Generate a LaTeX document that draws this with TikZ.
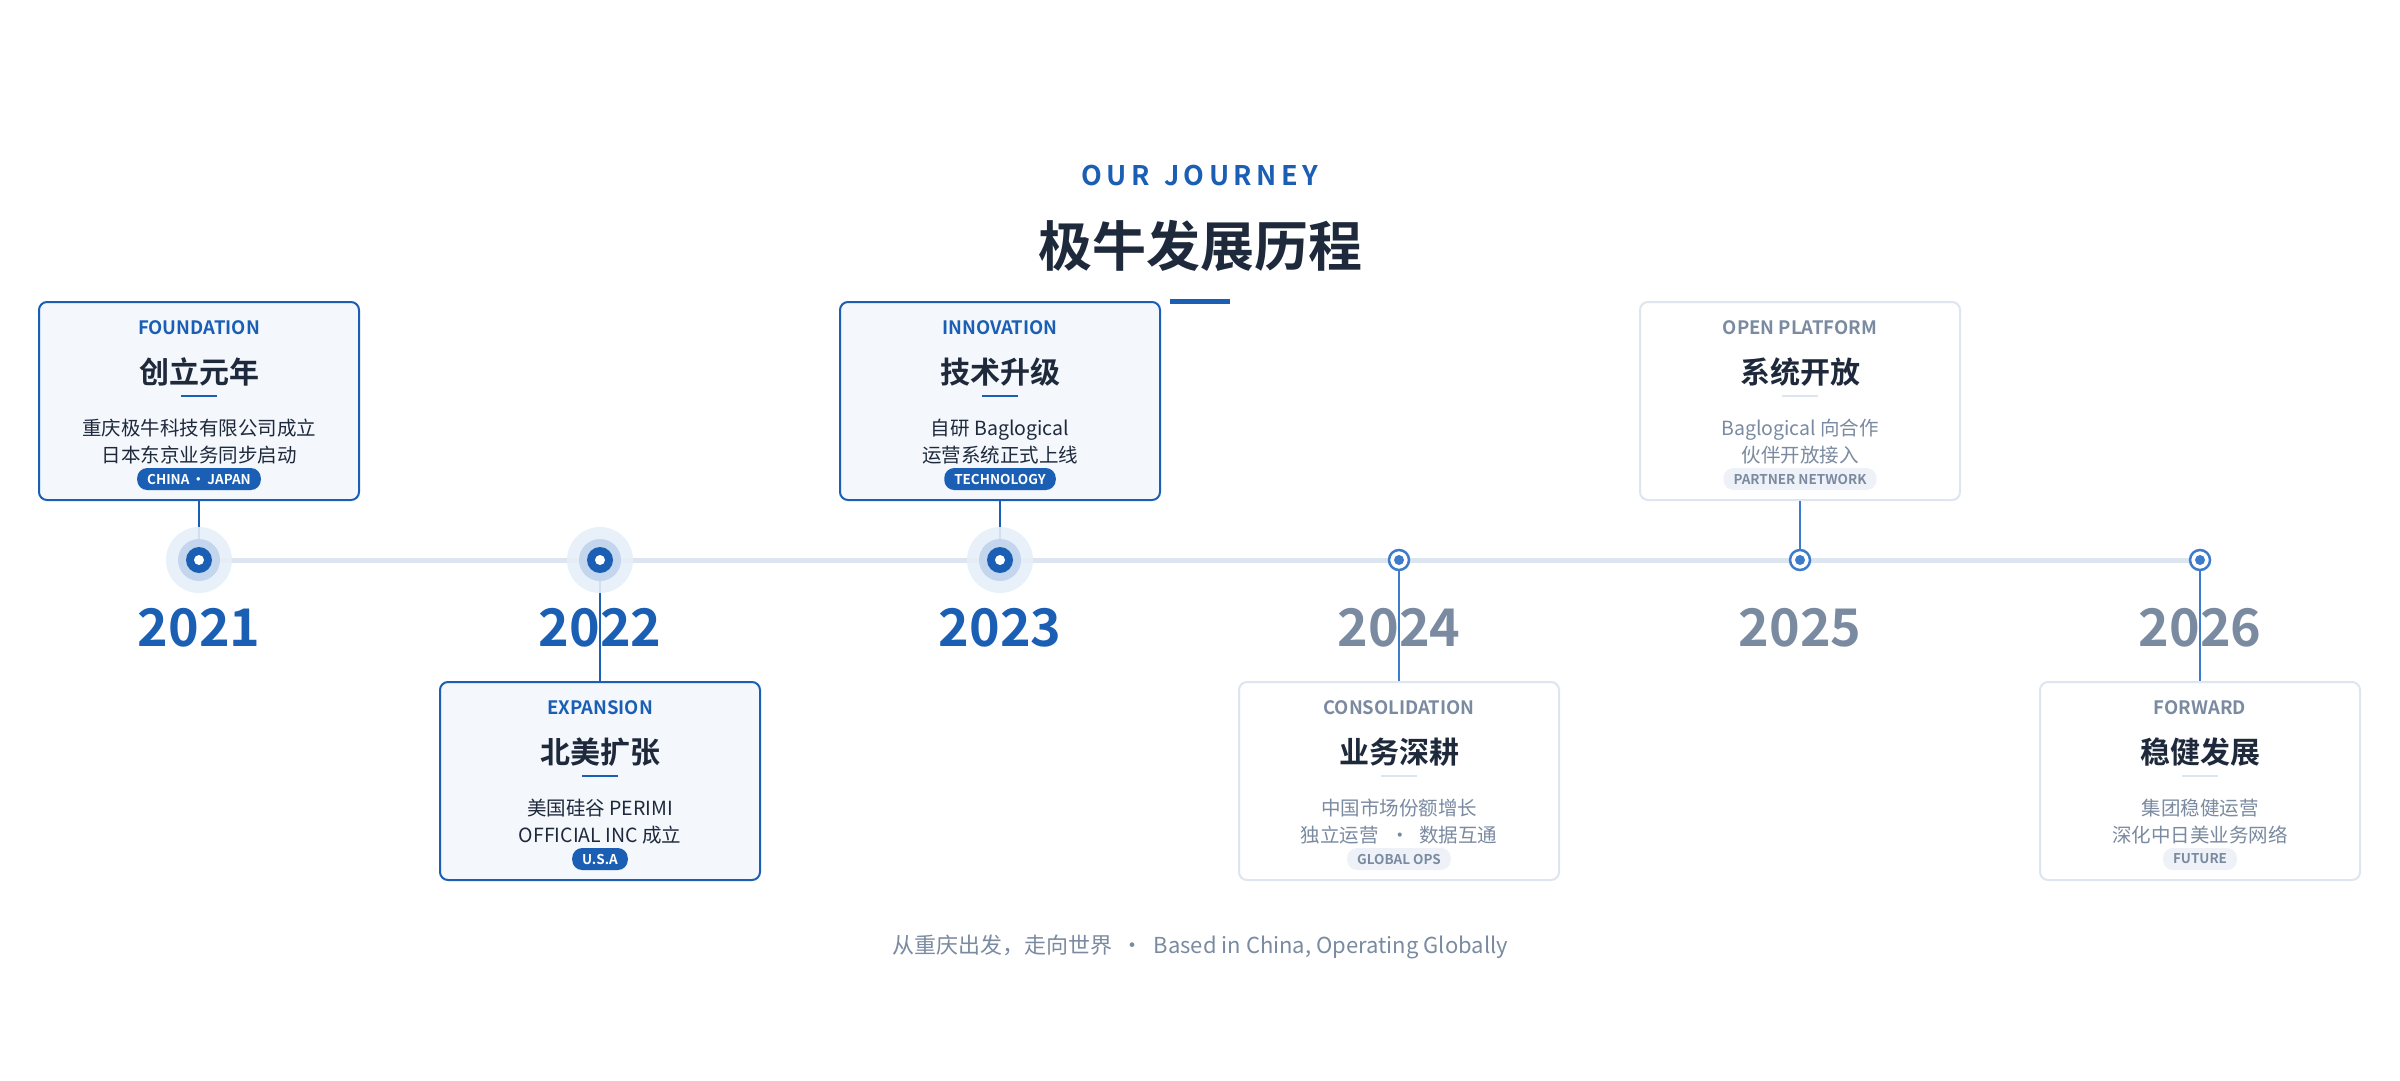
\documentclass[tikz,border=0pt]{standalone}
\usepackage{fontspec}
\setmainfont{Noto Sans CJK SC}[BoldFont={Noto Sans CJK SC Bold}]
\begin{document}
\definecolor{blue}{HTML}{1A5FB4}
\definecolor{lblue}{HTML}{3D7CC9}
\definecolor{halo}{HTML}{E6EEF8}
\definecolor{halo2}{HTML}{C3D6EE}
\definecolor{dark}{HTML}{1E293B}
\definecolor{grey}{HTML}{7A8AA0}
\definecolor{line}{HTML}{DDE5F0}
\definecolor{cardA}{HTML}{F4F7FC}
\definecolor{pillB}{HTML}{EEF2F8}
\begin{tikzpicture}[x=1pt,y=-1pt,
 cardA/.style={draw=blue,line width=2pt,fill=cardA,rounded corners=8pt,minimum width=320pt,minimum height=198pt},
 cardB/.style={draw=line,line width=2pt,fill=white,rounded corners=8pt,minimum width=320pt,minimum height=198pt},
 tag/.style={font=\fontsize{18.5}{20}\selectfont\bfseries},
 ttl/.style={font=\fontsize{30}{34}\selectfont\bfseries,text=dark},
 body/.style={font=\fontsize{19.5}{27}\selectfont,align=center},
 pillA/.style={fill=blue,text=white,rounded corners=10pt,font=\fontsize{13.5}{14}\selectfont\bfseries,inner xsep=10pt,minimum height=22pt,inner ysep=0pt},
 pillB/.style={fill=pillB,text=grey,rounded corners=10pt,font=\fontsize{13.5}{14}\selectfont\bfseries,inner xsep=10pt,minimum height=22pt,inner ysep=0pt},
 yr/.style={font=\fontsize{52}{52}\selectfont\bfseries},
 conA/.style={draw=blue,line width=2pt},
 conB/.style={draw=lblue,line width=2pt}]
\useasboundingbox (0,0) rectangle (2400,1080);
\node[font=\fontsize{27}{30}\selectfont\bfseries,text=blue] (oj) at (1200,176) {O\,U\,R\hspace{14pt}J\,O\,U\,R\,N\,E\,Y};
\node[font=\fontsize{54}{60}\selectfont\bfseries,text=dark] (h) at (1200,246) {极牛发展历程};
\fill[blue] (1170,299) rectangle (1230,304);
\draw[line,line width=5pt] (199,560) -- (2200,560);
% cards
\foreach \x/\y/\st/\tc/\bc/\tg/\tt/\ba/\bb/\pst/\pl/\rc [count=\i] in {
 199/301/cardA/blue/dark/FOUNDATION/创立元年/重庆极牛科技有限公司成立/日本东京业务同步启动/pillA/CHINA\,·\,JAPAN/blue,
 600/681/cardA/blue/dark/EXPANSION/北美扩张/美国硅谷 PERIMI/OFFICIAL INC 成立/pillA/U.S.A/blue,
 1000/301/cardA/blue/dark/INNOVATION/技术升级/自研 Baglogical/运营系统正式上线/pillA/TECHNOLOGY/blue,
 1399/681/cardB/grey/grey/CONSOLIDATION/业务深耕/中国市场份额增长/独立运营 \ \,·\ \ 数据互通/pillB/GLOBAL OPS/line,
 1800/301/cardB/grey/grey/OPEN PLATFORM/系统开放/Baglogical 向合作/伙伴开放接入/pillB/PARTNER NETWORK/line,
 2200/681/cardB/grey/grey/FORWARD/稳健发展/集团稳健运营/深化中日美业务网络/pillB/FUTURE/line}{
 \node[\st,anchor=north] (c\i) at (\x,\y) {};
 \node[tag,text=\tc] (t\i) at (\x,\y+27) {\tg};
 \node[ttl] (n\i) at (\x,\y+71) {\tt};
 \fill[\rc] (\x-18,\y+94) rectangle (\x+18,\y+96);
 \node[body,text=\bc] (b\i) at (\x,\y+141) {\ba\\\bb};
 \node[\pst] (p\i) at (\x,\y+178) {\pl};
}
\foreach \x [count=\i] in {199,600,1000,1399,1800,2200}
 \coordinate (d\i) at (\x,560);
% connectors (under the dots)
\draw[conA] (c1.south) -- (d1);
\draw[conA] (d2) -- (c2.north);
\draw[conA] (c3.south) -- (d3);
\draw[conB] (d4) -- (c4.north);
\draw[conB] (c5.south) -- (d5);
\draw[conB] (d6) -- (c6.north);
% dots
\foreach \i in {1,2,3}{
 \fill[halo,opacity=0.9] (d\i) circle (33);
 \fill[halo2] (d\i) circle (21);
 \fill[blue] (d\i) circle (13);
 \fill[white] (d\i) circle (5);
}
\foreach \i in {4,5,6}{
 \draw[lblue,line width=2.5pt,fill=white] (d\i) circle (10);
 \fill[lblue] (d\i) circle (5);
}
% years
\foreach \x/\y/\c [count=\i] in {199/2021/blue,600/2022/blue,1000/2023/blue,1399/2024/grey,1800/2025/grey,2200/2026/grey}
 \node[yr,text=\c] (y\i) at (\x,628) {\y};
\node[font=\fontsize{22}{24}\selectfont,text=grey] (f) at (1200,947) {从重庆出发，走向世界\ \ ·\ \ Based in China, Operating Globally};
\end{tikzpicture}
\end{document}
